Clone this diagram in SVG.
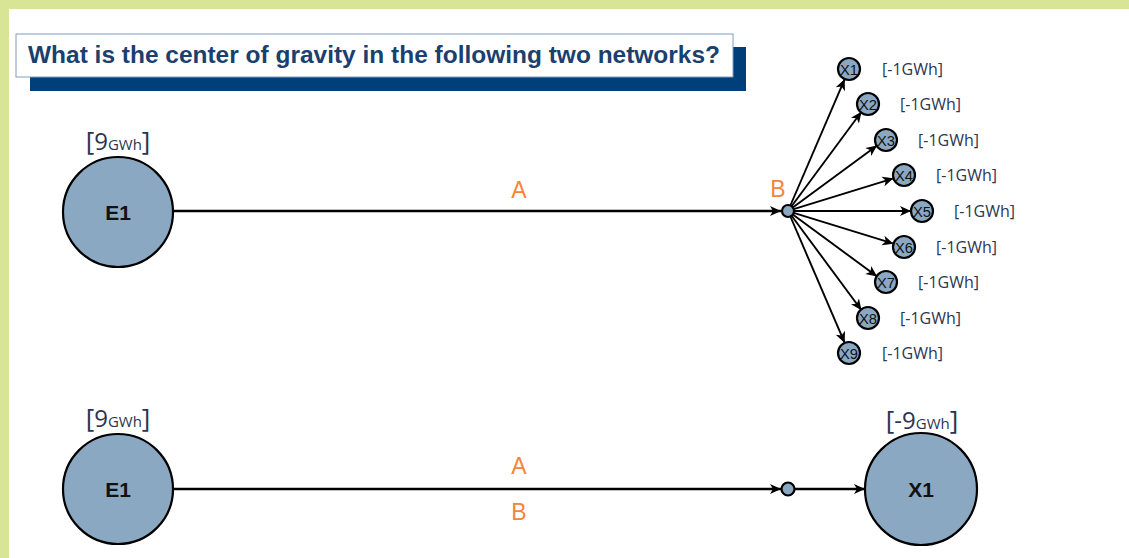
<svg xmlns="http://www.w3.org/2000/svg" width="1129" height="558" viewBox="0 0 1129 558">
<style>
.node{fill:#8ba8c3;stroke:#000;stroke-width:2.2}
.nlab{font-family:"Liberation Sans",Arial,sans-serif;font-weight:bold;font-size:21px;fill:#111;text-anchor:middle}
.xlab{font-family:"Liberation Sans",Arial,sans-serif;font-size:15px;fill:#111;text-anchor:middle}
.val{font-family:"Open Sans","Liberation Sans",sans-serif;fill:#2b3550}
.edge{stroke:#000;stroke-width:2.5;fill:none}
.fan{stroke:#000;stroke-width:1.9;fill:none}
.or{font-family:"Liberation Sans",Arial,sans-serif;font-size:23px;fill:#f5843c;text-anchor:middle}
</style>
<defs>
<marker id="ah" viewBox="-1 -6 13 12" refX="11" refY="0" markerWidth="13" markerHeight="12" markerUnits="userSpaceOnUse" orient="auto">
<path d="M0,-5 L11,0 L0,5 L3,0 z" fill="#000"/>
</marker>
</defs>
<rect width="1129" height="558" fill="#fff"/>
<rect x="0" y="0" width="1129" height="9" fill="#d8e596"/>
<rect x="0" y="0" width="9" height="558" fill="#d8e596"/>
<g id="title">
<rect x="30" y="47" width="716" height="44" fill="#003f7a"/>
<rect x="16" y="34" width="717" height="43" fill="#fff" stroke="#7f9cc0" stroke-width="1"/>
<text x="28" y="63" font-family="Liberation Sans,Arial,sans-serif" font-weight="bold" font-size="23" fill="#1b3f6e" textLength="692" lengthAdjust="spacingAndGlyphs">What is the center of gravity in the following two networks?</text>
</g>
<g id="connectors">
<line class="edge" x1="174" y1="211" x2="781" y2="211" marker-end="url(#ah)"/>
<line class="fan" x1="790.4" y1="205.5" x2="844.7" y2="79.1" marker-end="url(#ah)"/>
<line class="fan" x1="791.6" y1="206.2" x2="861.5" y2="111.8" marker-end="url(#ah)"/>
<line class="fan" x1="792.8" y1="207.5" x2="877.1" y2="145.5" marker-end="url(#ah)"/>
<line class="fan" x1="793.7" y1="209.2" x2="893.5" y2="178.3" marker-end="url(#ah)"/>
<line class="fan" x1="794" y1="211" x2="911" y2="211" marker-end="url(#ah)"/>
<line class="fan" x1="793.7" y1="212.8" x2="893.5" y2="243.7" marker-end="url(#ah)"/>
<line class="fan" x1="792.8" y1="214.5" x2="877.1" y2="276.5" marker-end="url(#ah)"/>
<line class="fan" x1="791.6" y1="215.8" x2="861.5" y2="310.2" marker-end="url(#ah)"/>
<line class="fan" x1="790.4" y1="216.5" x2="844.7" y2="342.9" marker-end="url(#ah)"/>
<line class="edge" x1="173" y1="489" x2="781" y2="489" marker-end="url(#ah)"/>
<line class="edge" x1="795" y1="489" x2="865" y2="489" marker-end="url(#ah)"/>
<text class="or" x="519" y="198">A</text>
<text class="or" x="778" y="197">B</text>
<text class="or" x="519" y="474">A</text>
<text class="or" x="519" y="520">B</text>
</g>
<g id="E1-top">
<circle class="node" cx="118" cy="212" r="55"/>
<text class="nlab" x="118" y="220">E1</text>
<text class="val" x="118" y="150" text-anchor="middle"><tspan font-size="26">[</tspan><tspan font-size="24">9</tspan><tspan font-size="15">GWh</tspan><tspan font-size="26">]</tspan></text>
</g>
<g id="B-top"><circle class="node" cx="788" cy="211" r="6" stroke-width="1.8"/></g>
<g id="X1"><circle class="node" cx="849" cy="69" r="11" stroke-width="1.9"/><text class="xlab" x="849" y="74.5" textLength="18" lengthAdjust="spacingAndGlyphs">X1</text><text class="val" x="882" y="75" font-size="16">[-1GWh]</text></g>
<g id="X2"><circle class="node" cx="868" cy="104" r="11" stroke-width="1.9"/><text class="xlab" x="868" y="109.5" textLength="18" lengthAdjust="spacingAndGlyphs">X2</text><text class="val" x="900" y="110" font-size="16">[-1GWh]</text></g>
<g id="X3"><circle class="node" cx="886" cy="140" r="11" stroke-width="1.9"/><text class="xlab" x="886" y="145.5" textLength="18" lengthAdjust="spacingAndGlyphs">X3</text><text class="val" x="918" y="146" font-size="16">[-1GWh]</text></g>
<g id="X4"><circle class="node" cx="904" cy="175" r="11" stroke-width="1.9"/><text class="xlab" x="904" y="180.5" textLength="18" lengthAdjust="spacingAndGlyphs">X4</text><text class="val" x="936" y="181" font-size="16">[-1GWh]</text></g>
<g id="X5"><circle class="node" cx="922" cy="211" r="11" stroke-width="1.9"/><text class="xlab" x="922" y="216.5" textLength="18" lengthAdjust="spacingAndGlyphs">X5</text><text class="val" x="954" y="217" font-size="16">[-1GWh]</text></g>
<g id="X6"><circle class="node" cx="904" cy="247" r="11" stroke-width="1.9"/><text class="xlab" x="904" y="252.5" textLength="18" lengthAdjust="spacingAndGlyphs">X6</text><text class="val" x="936" y="253" font-size="16">[-1GWh]</text></g>
<g id="X7"><circle class="node" cx="886" cy="282" r="11" stroke-width="1.9"/><text class="xlab" x="886" y="287.5" textLength="18" lengthAdjust="spacingAndGlyphs">X7</text><text class="val" x="918" y="288" font-size="16">[-1GWh]</text></g>
<g id="X8"><circle class="node" cx="868" cy="318" r="11" stroke-width="1.9"/><text class="xlab" x="868" y="323.5" textLength="18" lengthAdjust="spacingAndGlyphs">X8</text><text class="val" x="900" y="324" font-size="16">[-1GWh]</text></g>
<g id="X9"><circle class="node" cx="849" cy="353" r="11" stroke-width="1.9"/><text class="xlab" x="849" y="358.5" textLength="18" lengthAdjust="spacingAndGlyphs">X9</text><text class="val" x="882" y="359" font-size="16">[-1GWh]</text></g>
<g id="E1-bottom">
<circle class="node" cx="118" cy="489" r="55"/>
<text class="nlab" x="118" y="497">E1</text>
<text class="val" x="118" y="427" text-anchor="middle"><tspan font-size="26">[</tspan><tspan font-size="24">9</tspan><tspan font-size="15">GWh</tspan><tspan font-size="26">]</tspan></text>
</g>
<g id="mid-bottom"><circle class="node" cx="788" cy="489" r="6.5" stroke-width="1.8"/></g>
<g id="X1-bottom">
<circle class="node" cx="921" cy="489" r="56"/>
<text class="nlab" x="921" y="497">X1</text>
<text class="val" x="922" y="429" text-anchor="middle"><tspan font-size="26">[</tspan><tspan font-size="24">-9</tspan><tspan font-size="15">GWh</tspan><tspan font-size="26">]</tspan></text>
</g>
</svg>
